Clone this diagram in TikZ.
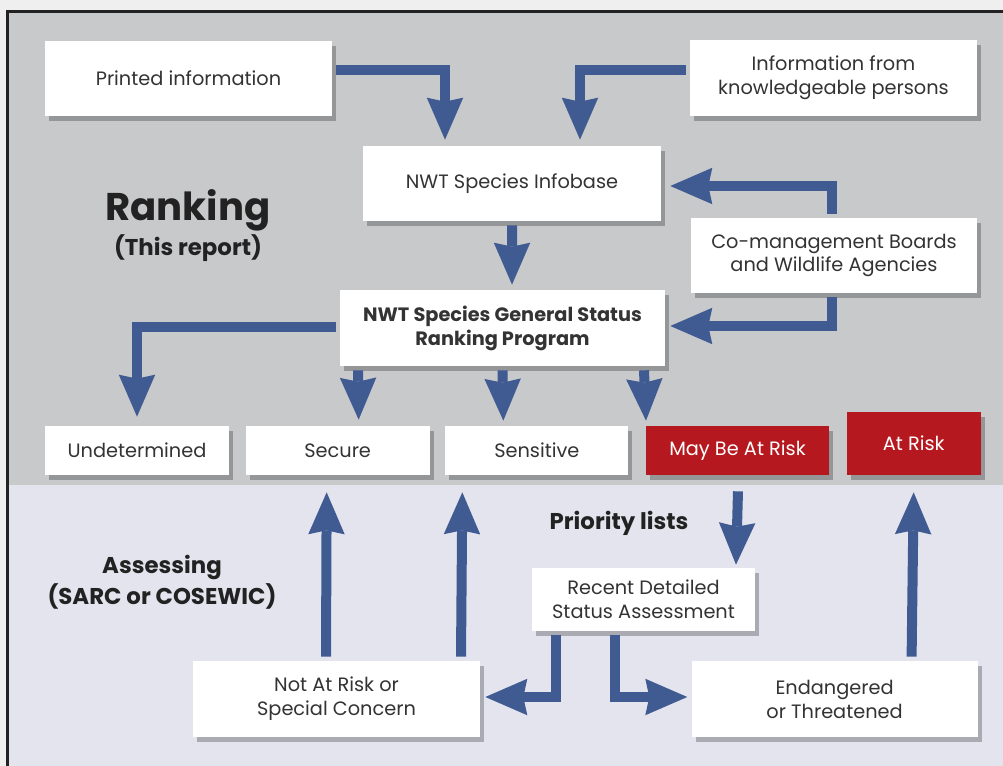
\documentclass[tikz,border=0pt]{standalone}
\usepackage{fontspec}
\setmainfont{Poppins}
\usetikzlibrary{positioning,arrows.meta,shadows}
\definecolor{flowblue}{HTML}{405A92}
\definecolor{riskred}{HTML}{B5191F}
\definecolor{rankgray}{HTML}{C8C9CB}
\definecolor{assesslav}{HTML}{E3E4EE}
\definecolor{pagegray}{HTML}{EFEFF0}
\definecolor{framedark}{HTML}{222222}
\definecolor{textgray}{HTML}{333333}
\begin{document}
\begin{tikzpicture}[x=0.02cm, y=-0.02cm,
   infobox/.style={fill=white, text=textgray, align=center, inner sep=0pt,
      font=\fontsize{11}{13.6}\selectfont,
      drop shadow={shadow xshift=0.08cm, shadow yshift=-0.1cm, opacity=0.25, fill=black}},
   riskbox/.style={infobox, fill=riskred, text=white},
   flow/.style={draw=flowblue, line width=0.2cm,
      -{Stealth[length=0.84cm, width=0.73cm, inset=0.08cm, line width=0pt]}},
   heading/.style={text=framedark, align=center, font=\bfseries\fontsize{13}{17.6}\selectfont}]
   \useasboundingbox (0,0) rectangle (1003,766);
   \fill[pagegray] (0,0) rectangle (1003,766);
   \fill[rankgray] (8,11) rectangle (1003,485);
   \fill[assesslav] (8,485) rectangle (1003,766);
   \draw[framedark, line width=0.06cm] (7.5,766) -- (7.5,11.5) -- (1003,11.5);

   \node[infobox, minimum width=5.74cm, minimum height=1.5cm] (pr) at (188.5,78.5) {Printed information};
   \node[infobox, minimum width=5.74cm, minimum height=1.52cm] (kn) at (833.5,78) {Information from\\knowledgeable persons};
   \node[infobox, minimum width=5.96cm, minimum height=1.5cm] (ib) at (512,183.5) {NWT Species Infobase};
   \node[infobox, minimum width=5.72cm, minimum height=1.5cm] (cm) at (834,255.5) {Co-management Boards\\and Wildlife Agencies};
   \node[infobox, minimum width=6.5cm, minimum height=1.52cm, font=\bfseries\fontsize{11}{13.6}\selectfont] (rp) at (502.5,328) {NWT Species General Status\\Ranking Program};

   \node[infobox, minimum width=3.68cm, minimum height=0.98cm] (und) at (137,450.5) {Undetermined};
   \node[infobox, minimum width=3.68cm, minimum height=0.98cm, right=0.32cm of und] (sec) {Secure};
   \node[infobox, minimum width=3.66cm, minimum height=0.98cm, right=0.3cm of sec] (sen) {Sensitive};
   \node[riskbox, minimum width=3.66cm, minimum height=0.98cm, right=0.34cm of sen] (may) {May Be At Risk};
   \node[riskbox, minimum width=2.68cm, minimum height=1.26cm, right=0.34cm of may.south east, anchor=south west] (ar) {At Risk};

   \node[infobox, minimum width=4.46cm, minimum height=1.26cm] (rec) at (643.5,599.5) {Recent Detailed\\Status Assessment};
   \node[infobox, minimum width=5.74cm, minimum height=1.52cm] (nr) at (336.5,699) {Not At Risk or\\Special Concern};
   \node[infobox, minimum width=5.72cm, minimum height=1.52cm, right=4.22cm of nr] (ec) {Endangered\\or Threatened};

   \node[heading, font=\bfseries\fontsize{22}{26}\selectfont] (rk) at (188,210) {Ranking};
   \node[heading] (tr) at (188,248) {(This report)};
   \node[heading] (pl) at (619,523) {Priority lists};
   \node[heading] (as) at (162,582) {Assessing\\(SARC or COSEWIC)};

   \draw[flow] ([shift={(4,-8.5)}]pr.east) -| ([shift={(-67,-6)}]ib.north);
   \draw[flow] ([shift={(-4,-8)}]kn.west) -| ([shift={(68,-6)}]ib.north);
   \draw[flow] ([shift={(-2,-4)}]cm.north) |- ([shift={(9,2.5)}]ib.east);
   \draw[flow] ([shift={(-2,4)}]cm.south) |- ([shift={(5,-2)}]rp.east);
   \draw[flow] ([shift={(0,4)}]ib.south) -- ([shift={(9.5,-5)}]rp.north);
   \draw[flow] ([shift={(-4,-1)}]rp.west) -| ([shift={(0,-9)}]und.north);
   \draw[flow] ([shift={(-144.5,4)}]rp.south) -- ([shift={(21,-6)}]sec.north);
   \draw[flow] ([shift={(0,4)}]rp.south) -- ([shift={(-33.5,-5)}]sen.north);
   \draw[flow] ([shift={(141.5,4)}]rp.south) -- ([shift={(-91.5,-5)}]may.north);
   \draw[flow] ([shift={(0.5,16)}]may.south) -- ([shift={(92.5,-3)}]rec.north);
   \draw[flow] ([shift={(77,-4)}]ec.north) -- ([shift={(0,17)}]ar.south);
   \draw[flow] ([shift={(-10.5,-4)}]nr.north) -- ([shift={(-11,17)}]sec.south);
   \draw[flow] ([shift={(124.5,-4)}]nr.north) -- ([shift={(-74.5,17)}]sen.south);
   \draw[flow] ([shift={(-87.5,4)}]rec.south) |- ([shift={(5,-2)}]nr.east);
   \draw[flow] ([shift={(-28.5,4)}]rec.south) |- ([shift={(-4,-2)}]ec.west);
\end{tikzpicture}
\end{document}
